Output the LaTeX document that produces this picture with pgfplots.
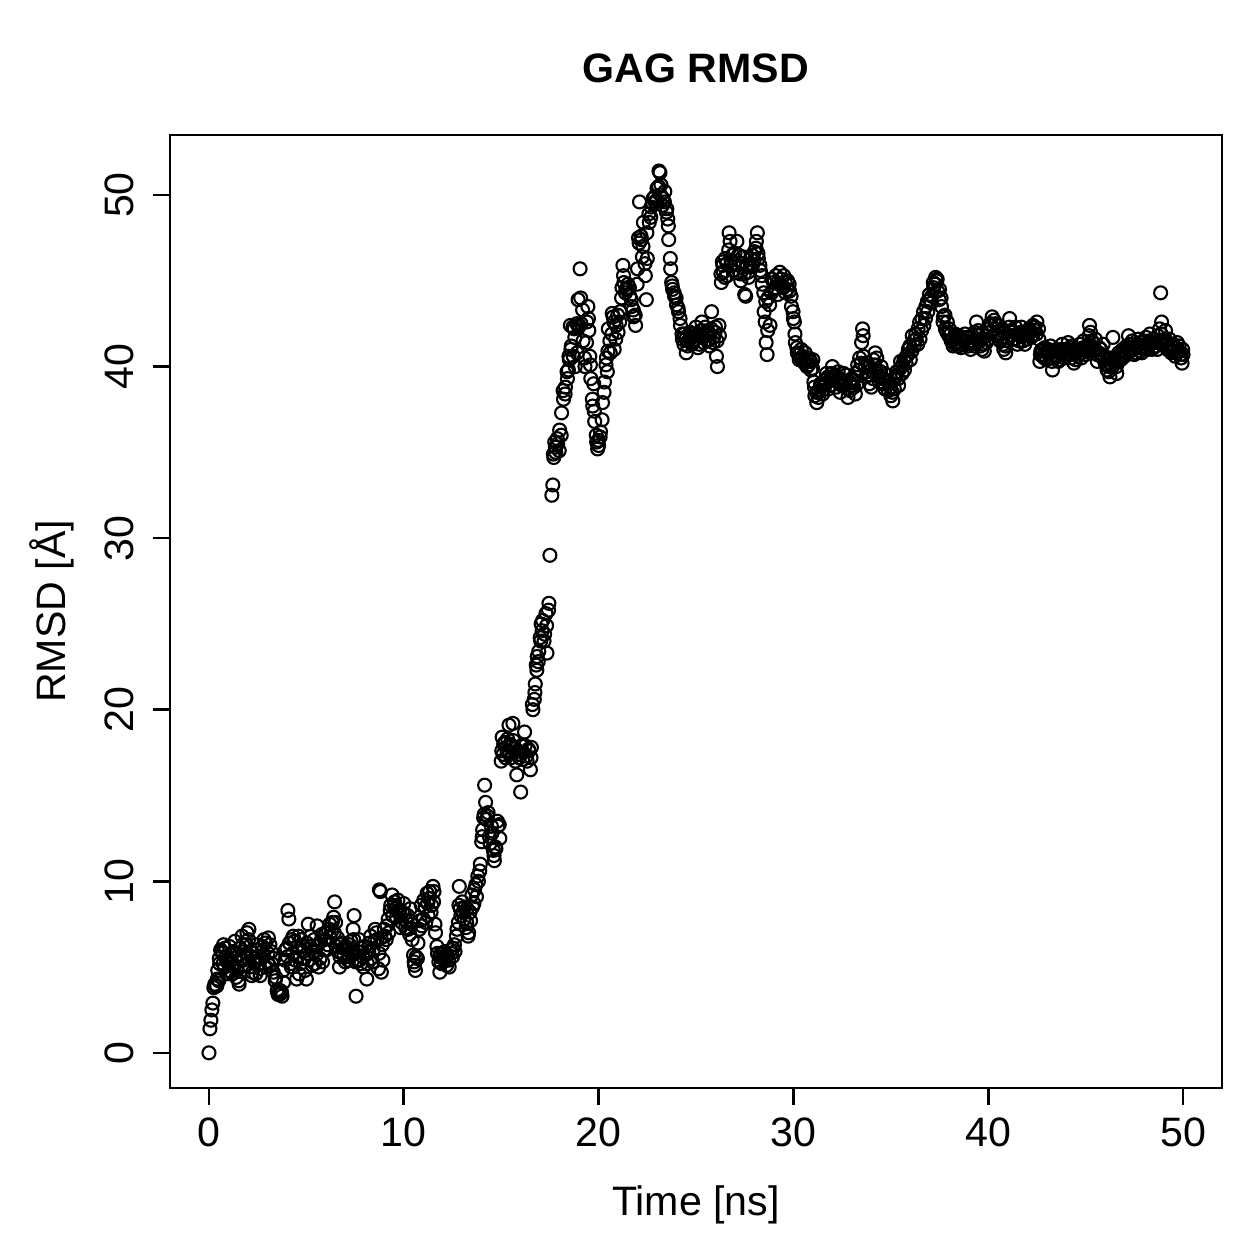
\documentclass[border=0pt]{standalone}
\usepackage{fontspec}
\setmainfont{Liberation Sans}
\usepackage{pgfplots}
\usepackage{pgfplotstable}
\pgfplotsset{compat=1.18}
\pgfplotstableread{
t y
0.00 0.0
0.05 1.4
0.10 1.9
0.15 2.5
0.20 2.9
0.25 3.8
0.30 4.0
0.40 3.9
0.45 4.8
0.50 4.2
0.55 5.2
0.60 6.0
0.70 5.8
0.75 6.3
0.80 5.0
0.85 5.6
0.90 4.6
1.00 5.5
1.05 6.2
1.10 5.3
1.20 4.6
1.25 5.9
1.30 5.0
1.40 4.4
1.50 5.6
1.55 4.0
1.60 6.1
1.70 6.8
1.75 5.4
1.80 5.9
1.90 6.3
1.95 7.0
2.00 5.5
2.05 7.2
2.10 5.0
2.20 4.5
2.25 5.8
2.30 5.3
2.40 4.6
2.50 6.0
2.55 5.2
2.60 4.9
2.70 5.5
2.75 6.2
2.80 5.7
2.90 6.4
3.00 5.3
3.05 6.7
3.10 5.1
3.20 5.9
3.30 4.7
3.40 4.2
3.50 3.6
3.55 3.4
3.60 3.5
3.70 3.6
3.75 3.3
3.80 4.8
3.90 5.4
4.00 6.1
4.05 8.3
4.10 7.8
4.20 5.2
4.25 6.6
4.30 5.8
4.40 6.5
4.50 4.3
4.55 5.6
4.60 6.8
4.70 5.2
4.80 6.2
4.90 5.5
5.00 4.3
5.05 5.8
5.10 7.5
5.20 6.2
5.30 5.1
5.40 6.6
5.50 5.7
5.55 7.4
5.60 6.3
5.70 5.5
5.80 6.9
5.90 6.0
6.00 7.0
6.10 6.3
6.20 7.5
6.30 7.1
6.40 7.9
6.45 8.8
6.50 7.6
6.60 6.7
6.70 5.0
6.75 6.3
6.80 5.8
6.90 6.1
7.00 5.3
7.10 6.0
7.20 5.6
7.30 6.5
7.40 7.2
7.45 8.0
7.50 5.8
7.55 3.3
7.60 5.4
7.70 6.6
7.80 5.2
7.90 5.6
8.00 6.2
8.10 4.3
8.20 5.9
8.30 6.8
8.40 5.3
8.50 6.5
8.60 7.0
8.70 4.9
8.75 9.5
8.80 9.4
8.85 4.7
8.90 6.3
9.00 7.2
9.10 6.6
9.20 7.8
9.30 8.3
9.40 9.2
9.50 8.6
9.60 8.4
9.70 8.9
9.80 8.1
9.90 7.6
10.00 8.7
10.10 7.3
10.20 8.0
10.30 6.9
10.40 7.5
10.50 5.7
10.55 5.1
10.60 4.8
10.70 5.5
10.80 7.2
10.90 8.6
11.00 7.8
11.10 8.5
11.20 9.3
11.25 8.0
11.30 9.0
11.40 8.2
11.50 9.7
11.55 9.4
11.60 7.5
11.70 6.2
11.80 5.3
11.85 4.7
11.90 5.8
12.00 5.5
12.10 5.9
12.20 5.1
12.30 5.4
12.40 6.0
12.50 5.6
12.60 6.3
12.70 6.8
12.80 7.6
12.85 9.7
12.90 8.4
13.00 8.8
13.10 7.8
13.20 7.3
13.25 8.4
13.30 6.8
13.40 8.2
13.50 9.2
13.60 8.7
13.70 9.8
13.80 10.3
13.90 10.6
14.00 12.3
14.05 13.0
14.10 13.7
14.15 15.6
14.20 14.6
14.30 13.8
14.40 12.6
14.50 13.2
14.60 11.8
14.65 11.2
14.70 12.0
14.80 13.5
14.90 13.3
15.00 17.0
15.05 18.4
15.10 17.4
15.20 18.1
15.30 17.6
15.40 19.1
15.45 18.0
15.50 17.2
15.60 19.2
15.70 17.8
15.80 16.2
15.90 17.4
16.00 15.2
16.10 17.1
16.20 18.7
16.30 17.3
16.40 17.7
16.50 16.5
16.55 17.8
16.60 20.3
16.70 20.6
16.75 21.5
16.80 22.6
16.85 23.1
16.90 22.8
17.00 24.2
17.05 25.0
17.10 24.6
17.20 24.0
17.30 25.6
17.35 23.3
17.45 26.2
17.50 29.0
17.60 32.5
17.65 33.1
17.70 34.7
17.75 35.6
17.80 35.0
17.90 35.5
18.00 36.3
18.10 37.3
18.20 38.1
18.30 38.8
18.40 39.3
18.45 39.8
18.50 40.4
18.55 42.4
18.60 41.2
18.70 40.6
18.75 42.2
18.80 40.0
18.90 40.8
18.95 43.9
19.00 42.4
19.05 45.7
19.10 42.5
19.20 41.5
19.30 40.0
19.40 42.6
19.45 43.5
19.50 42.1
19.55 40.6
19.60 39.3
19.70 37.7
19.75 39.0
19.80 36.8
19.90 35.6
19.95 35.2
20.00 35.4
20.10 36.2
20.20 37.9
20.30 39.1
20.40 40.5
20.45 39.7
20.50 42.2
20.60 40.8
20.70 43.1
20.75 42.9
20.80 41.0
20.90 42.4
21.00 42.0
21.10 43.2
21.20 44.6
21.25 45.9
21.30 44.9
21.40 44.5
21.50 44.8
21.60 44.1
21.70 43.5
21.80 42.9
21.90 42.4
22.00 45.7
22.05 47.5
22.10 49.6
22.20 47.4
22.25 46.4
22.30 48.4
22.40 45.3
22.45 43.9
22.50 46.3
22.60 48.4
22.70 49.3
22.80 49.8
22.90 49.6
23.00 50.4
23.10 51.4
23.15 51.3
23.20 50.6
23.30 49.8
23.40 50.2
23.50 49.2
23.55 48.6
23.60 47.4
23.70 45.7
23.75 44.9
23.80 44.5
23.90 44.1
24.00 43.6
24.10 43.2
24.20 42.4
24.30 41.6
24.40 41.9
24.50 40.8
24.60 41.5
24.70 42.0
24.80 41.3
24.90 41.8
25.00 42.3
25.10 41.1
25.20 41.9
25.30 42.6
25.40 41.4
25.50 41.8
25.60 42.1
25.70 41.2
25.80 43.2
25.90 41.7
26.00 42.3
26.05 40.6
26.10 40.0
26.20 41.8
26.30 44.9
26.35 46.1
26.40 45.5
26.50 46.3
26.60 45.3
26.70 47.8
26.75 47.3
26.80 46.2
26.90 45.6
27.00 46.6
27.10 47.3
27.20 45.9
27.30 45.0
27.40 46.4
27.50 44.2
27.55 44.1
27.60 45.8
27.70 45.2
27.80 46.3
27.90 45.9
28.00 46.7
28.10 47.3
28.15 47.8
28.20 46.3
28.30 45.6
28.40 44.8
28.50 43.2
28.55 42.6
28.60 41.4
28.65 40.7
28.70 44.0
28.80 42.4
28.90 45.1
29.00 44.5
29.10 45.3
29.20 44.2
29.30 45.5
29.40 44.7
29.50 45.3
29.60 44.3
29.70 45.0
29.80 44.4
29.90 43.5
30.00 42.8
30.05 42.6
30.10 41.4
30.20 40.8
30.30 40.4
30.40 41.0
30.50 40.3
30.60 40.8
30.70 40.0
30.80 40.5
30.90 39.8
31.00 40.4
31.05 39.1
31.10 38.3
31.20 37.9
31.30 38.6
31.40 39.0
31.50 38.4
31.60 39.2
31.70 39.6
31.80 38.7
31.90 39.3
32.00 40.0
32.10 39.4
32.20 38.8
32.30 39.7
32.40 38.5
32.50 39.2
32.60 38.9
32.70 39.5
32.80 38.2
32.90 38.6
33.00 39.3
33.10 38.8
33.20 39.6
33.30 40.1
33.40 40.5
33.50 41.4
33.55 42.2
33.60 40.6
33.70 39.4
33.80 40.2
33.90 39.0
34.00 38.8
34.10 40.4
34.20 40.8
34.30 39.6
34.40 39.1
34.50 40.0
34.60 39.3
34.70 38.7
34.80 39.5
34.90 39.1
35.00 38.3
35.10 38.0
35.20 39.3
35.30 39.7
35.40 38.9
35.50 40.3
35.60 40.1
35.70 39.8
35.80 40.6
35.90 41.0
36.00 40.4
36.10 41.8
36.20 41.2
36.30 41.6
36.40 42.2
36.50 41.6
36.60 42.8
36.70 42.4
36.80 43.5
36.90 43.2
37.00 43.9
37.10 44.1
37.20 44.6
37.30 45.2
37.35 45.0
37.40 44.4
37.50 44.5
37.60 43.5
37.70 42.9
37.80 42.2
37.90 42.6
38.00 42.2
38.10 41.5
38.20 41.2
38.30 41.9
38.40 41.4
38.50 41.8
38.60 41.1
38.70 41.6
38.80 41.9
38.90 41.3
39.00 41.7
39.10 41.0
39.20 41.5
39.30 42.0
39.40 42.6
39.50 41.8
39.60 41.2
39.70 41.6
39.80 40.9
39.90 41.4
40.00 42.2
40.10 42.5
40.20 42.9
40.30 42.7
40.40 41.9
40.50 42.4
40.60 41.5
40.70 42.1
40.80 41.0
40.90 40.8
41.00 41.7
41.10 42.8
41.20 42.1
41.30 41.6
41.40 42.3
41.50 41.3
41.60 41.9
41.70 42.3
41.80 41.5
41.90 42.0
42.00 41.6
42.10 42.2
42.20 41.7
42.30 42.4
42.40 42.1
42.50 42.6
42.60 41.6
42.65 40.3
42.70 40.9
42.80 40.6
42.90 41.1
43.00 40.4
43.10 40.8
43.20 41.2
43.30 39.8
43.40 40.6
43.50 41.0
43.60 40.3
43.70 40.8
43.80 41.3
43.90 40.5
44.00 40.9
44.10 41.4
44.20 40.7
44.30 41.2
44.40 40.2
44.50 41.0
44.60 40.6
44.70 41.3
44.80 40.8
44.90 41.5
45.00 40.7
45.10 41.2
45.20 42.4
45.25 42.0
45.30 41.5
45.40 40.9
45.50 41.6
45.60 40.3
45.70 41.1
45.80 40.6
45.90 41.3
46.00 40.2
46.10 39.8
46.20 40.0
46.25 39.4
46.30 40.5
46.40 41.7
46.50 40.2
46.60 39.6
46.70 40.8
46.80 40.4
46.90 41.0
47.00 40.6
47.10 41.2
47.20 41.8
47.30 40.9
47.40 41.5
47.50 40.7
47.60 41.2
47.70 41.6
47.80 40.9
47.90 41.4
48.00 41.1
48.10 41.7
48.20 41.3
48.30 41.9
48.40 41.0
48.50 41.6
48.60 41.2
48.70 41.8
48.80 42.2
48.85 44.3
48.90 42.6
49.00 41.5
49.10 42.1
49.20 41.0
49.30 41.6
49.40 40.8
49.50 41.3
49.60 40.6
49.70 41.4
49.80 41.2
49.90 40.5
49.95 40.2
50.00 40.7
}\gagdata
\pgfplotstableread{
t y
0.33 3.9
0.43 4.3
0.53 5.5
0.63 5.9
0.73 5.2
0.83 6.1
0.93 5.4
1.03 4.8
1.13 5.7
1.23 5.2
1.33 6.5
1.43 4.8
1.53 4.2
1.63 5.5
1.73 6.3
1.83 5.1
1.93 5.8
2.03 6.6
2.13 5.9
2.23 4.7
2.33 5.5
2.43 6.3
2.53 5.6
2.63 4.5
2.73 5.9
2.83 6.6
2.93 5.0
3.03 5.8
3.13 6.3
3.23 5.2
3.33 5.5
3.43 4.4
3.53 3.7
3.63 3.4
3.73 3.5
3.83 4.1
3.93 6.0
4.03 5.6
4.13 6.4
4.23 5.0
4.33 6.8
4.43 5.4
4.53 6.2
4.63 4.6
4.73 6.6
4.83 5.9
4.93 4.8
5.03 6.4
5.13 5.4
5.23 6.8
5.33 5.9
5.43 5.2
5.53 6.2
5.63 5.0
5.73 6.5
5.83 5.3
5.93 6.6
6.03 6.0
6.13 7.2
6.23 6.7
6.33 7.6
6.43 7.0
6.53 6.2
6.63 5.9
6.73 5.6
6.83 6.4
6.93 5.7
7.03 6.2
7.13 5.4
7.23 6.3
7.33 5.8
7.43 6.6
7.53 5.3
7.63 5.9
7.73 5.4
7.83 6.1
7.93 5.0
8.03 5.7
8.13 5.2
8.23 6.4
8.33 5.5
8.43 6.0
8.53 7.2
8.63 6.6
8.73 5.8
8.83 6.7
8.93 5.4
9.03 6.8
9.13 7.4
9.23 7.0
9.33 8.6
9.43 8.0
9.53 8.8
9.63 7.9
9.73 8.3
9.83 7.3
9.93 8.2
10.03 8.1
10.13 7.7
10.23 7.2
10.33 8.4
10.43 6.6
10.53 5.3
10.63 5.6
10.73 6.4
10.83 7.7
10.93 7.4
11.03 8.9
11.13 7.6
11.23 8.7
11.33 9.4
11.43 8.6
11.53 8.8
11.63 7.0
11.73 5.8
11.83 5.6
11.93 5.2
12.03 5.8
12.13 5.4
12.23 5.7
12.33 5.0
12.43 5.8
12.53 6.1
12.63 5.9
12.73 7.2
12.83 8.6
12.93 8.0
13.03 8.2
13.13 8.5
13.23 7.6
13.33 7.0
13.43 7.7
13.53 8.5
13.63 9.5
13.73 9.1
13.83 10.0
13.93 11.0
14.03 12.6
14.13 13.9
14.23 13.6
14.33 14.0
14.43 12.2
14.53 12.8
14.63 11.5
14.73 11.9
14.83 13.2
14.93 12.5
15.03 17.6
15.13 18.0
15.23 17.2
15.33 18.3
15.43 17.5
15.53 17.9
15.63 18.2
15.73 17.0
15.83 17.6
15.93 17.2
16.03 17.9
16.13 17.5
16.23 17.9
16.33 17.0
16.43 17.6
16.53 17.2
16.63 20.0
16.73 21.0
16.83 22.3
16.93 23.4
17.03 24.0
17.13 25.2
17.23 24.4
17.33 24.9
17.43 25.8
17.68 34.9
17.78 35.3
17.88 35.8
17.98 35.1
18.08 36.0
18.18 38.6
18.28 38.4
18.38 39.7
18.48 40.6
18.58 41.0
18.68 42.3
18.78 41.7
18.88 42.5
18.98 42.3
19.08 44.0
19.18 43.3
19.28 40.5
19.38 41.4
19.48 42.8
19.58 40.1
19.68 38.1
19.78 37.4
19.88 36.0
19.98 35.7
20.08 35.9
20.18 36.9
20.28 38.5
20.38 40.1
20.48 40.9
20.58 41.5
20.68 41.9
20.78 42.6
20.88 41.6
20.98 43.0
21.08 42.6
21.18 44.0
21.28 45.3
21.38 44.3
21.48 44.5
21.58 44.6
21.68 43.9
21.78 43.3
21.88 43.0
21.98 44.8
22.08 47.2
22.18 47.6
22.28 47.0
22.38 46.0
22.48 47.8
22.58 48.9
22.68 48.7
22.78 49.5
22.88 49.9
22.98 49.7
23.08 50.5
23.18 50.0
23.28 49.4
23.38 49.6
23.48 49.0
23.58 48.2
23.68 46.3
23.78 44.7
23.88 44.3
23.98 44.0
24.08 43.4
24.18 42.8
24.28 41.9
24.38 41.3
24.48 41.6
24.58 41.2
24.68 41.6
24.78 41.9
24.88 41.5
24.98 41.6
25.08 41.8
25.18 41.3
25.28 42.1
25.38 41.7
25.48 42.3
25.58 41.5
25.68 41.9
25.78 42.2
25.88 41.4
25.98 42.0
26.08 41.5
26.18 42.4
26.28 45.4
26.38 45.9
26.48 45.2
26.58 46.0
26.68 46.8
26.78 45.9
26.88 46.5
26.98 46.0
27.08 45.5
27.18 46.5
27.28 45.4
27.38 46.0
27.48 45.4
27.58 45.9
27.68 45.5
27.78 45.8
27.88 46.5
27.98 46.2
28.08 46.9
28.18 46.6
28.28 45.9
28.38 45.3
28.48 44.3
28.58 43.8
28.68 42.1
28.78 43.6
28.88 44.3
28.98 44.9
29.08 44.6
29.18 44.9
29.28 44.8
29.38 45.1
29.48 44.6
29.58 44.9
29.68 44.5
29.78 44.8
29.88 44.1
29.98 43.2
30.08 41.9
30.18 41.1
30.28 40.7
30.38 40.5
30.48 40.6
30.58 40.2
30.68 40.4
30.78 40.1
30.88 40.3
30.98 39.9
31.08 38.8
31.18 38.5
31.28 38.2
31.38 38.8
31.48 38.6
31.58 38.9
31.68 39.0
31.78 39.4
31.88 38.9
31.98 39.6
32.08 39.2
32.18 39.5
32.28 39.1
32.38 39.3
32.48 38.9
32.58 39.6
32.68 39.1
32.78 38.7
32.88 39.1
32.98 38.9
33.08 39.2
33.18 38.4
33.28 39.0
33.38 39.8
33.48 40.2
33.58 41.8
33.68 40.0
33.78 39.7
33.88 39.5
33.98 39.8
34.08 39.3
34.18 40.1
34.28 40.5
34.38 39.4
34.48 39.7
34.58 39.0
34.68 39.6
34.78 39.2
34.88 38.6
34.98 38.8
35.08 38.5
35.18 38.7
35.28 39.5
35.38 39.3
35.48 39.9
35.58 39.6
35.68 40.4
35.78 40.2
35.88 40.7
35.98 41.2
36.08 40.9
36.18 41.5
36.28 41.9
36.38 41.3
36.48 42.6
36.58 42.1
36.68 43.2
36.78 42.8
36.88 43.8
36.98 44.2
37.08 43.7
37.18 44.9
37.28 44.8
37.38 45.1
37.48 43.9
37.58 44.0
37.68 42.6
37.78 43.0
37.88 42.0
37.98 41.8
38.08 41.9
38.18 41.6
38.28 41.3
38.38 41.7
38.48 41.2
38.58 41.6
38.68 41.3
38.78 41.5
38.88 41.7
38.98 41.2
39.08 41.4
39.18 41.8
39.28 41.2
39.38 41.6
39.48 42.1
39.58 41.5
39.68 41.0
39.78 41.3
39.88 41.8
39.98 41.6
40.08 42.0
40.18 42.4
40.28 42.2
40.38 42.5
40.48 41.8
40.58 42.0
40.68 41.6
40.78 41.3
40.88 41.2
40.98 41.5
41.08 42.3
41.18 41.8
41.28 42.0
41.38 41.6
41.48 41.9
41.58 41.5
41.68 42.0
41.78 41.8
41.88 41.3
41.98 41.9
42.08 41.9
42.18 42.0
42.28 41.8
42.38 42.3
42.48 41.9
42.58 42.2
42.68 40.7
42.78 41.0
42.88 40.5
42.98 40.9
43.08 41.0
43.18 40.5
43.28 40.3
43.38 40.9
43.48 40.6
43.58 40.9
43.68 40.4
43.78 41.0
43.88 40.7
43.98 40.6
44.08 41.0
44.18 41.1
44.28 40.5
44.38 40.8
44.48 40.4
44.58 40.9
44.68 41.0
44.78 40.5
44.88 41.1
44.98 41.0
45.08 40.9
45.18 41.8
45.28 41.2
45.38 41.4
45.48 41.0
45.58 40.7
45.68 40.8
45.78 41.0
45.88 40.5
45.98 40.6
46.08 40.1
46.18 39.7
46.28 40.2
46.38 40.0
46.48 40.5
46.58 40.0
46.68 40.3
46.78 40.7
46.88 40.5
46.98 40.9
47.08 40.8
47.18 41.0
47.28 41.3
47.38 41.1
47.48 41.0
47.58 40.8
47.68 41.3
47.78 41.1
47.88 40.8
47.98 41.5
48.08 41.3
48.18 41.0
48.28 41.5
48.38 41.4
48.48 41.1
48.58 41.4
48.68 41.0
48.78 41.5
48.88 41.9
48.98 41.3
49.08 41.6
49.18 41.3
49.28 41.0
49.38 41.2
49.48 40.9
49.58 41.1
49.68 40.8
49.78 40.9
49.88 40.7
49.98 41.0
}\gagdatab
\begin{document}
\begin{tikzpicture}
\path[use as bounding box] (0,0) rectangle (12.59cm,12.59cm);
\begin{axis}[
  at={(1.70cm,1.71cm)}, anchor=south west,
  scale only axis, width=10.52cm, height=9.53cm,
  xmin=-2, xmax=52, ymin=-2.05, ymax=53.5,
  xtick={0,10,20,30,40,50}, ytick={0,10,20,30,40,50},
  tick pos=left, tick align=outside, major tick length=0.17cm,
  axis line style={line width=0.75pt, black},
  every tick/.style={line width=0.75pt, black},
  minor tick num=0,
  /pgf/number format/assume math mode=true,
  ticklabel style={font=\fontsize{11.7pt}{14pt}\selectfont},
  yticklabel style={xshift=-0.19cm, rotate=90, anchor=base},
  xticklabel style={yshift=-0.42cm, anchor=base},
  title={\bfseries GAG RMSD},
  title style={font=\fontsize{11.7pt}{14pt}\selectfont, at={(axis description cs:0.5,1.0326)}, anchor=base},
  xlabel={Time [ns]},
  xlabel style={font=\fontsize{11.7pt}{14pt}\selectfont, at={(axis description cs:0.5,-0.1333)}, anchor=base},
  ylabel={RMSD [Å]},
  ylabel style={font=\fontsize{11.7pt}{14pt}\selectfont, at={(axis description cs:-0.0998,0.5)}, anchor=base, rotate=0},
]
\addplot[only marks, mark=o, mark size=1.85pt, mark options={line width=0.6pt, black}] table[x=t, y=y] {\gagdata};
\addplot[only marks, mark=o, mark size=1.85pt, mark options={line width=0.6pt, black}] table[x=t, y=y] {\gagdatab};
\end{axis}
\end{tikzpicture}
\end{document}
